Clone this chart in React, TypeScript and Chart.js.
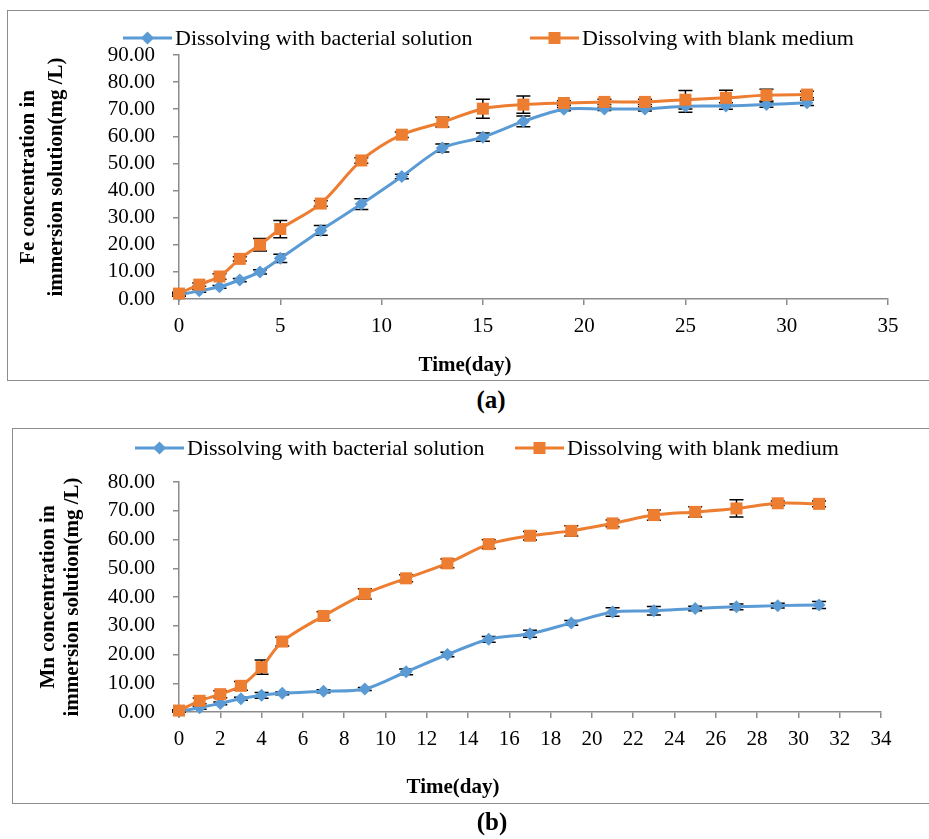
import React, { useEffect, useRef } from 'react';
import { Chart, registerables } from 'chart.js';

Chart.register(...registerables);

// ---------- DATA ----------
const days = [0, 1, 2, 3, 4, 5, 7, 9, 11, 13, 15, 17, 19, 21, 23, 25, 27, 29, 31];

const seriesBacterial = 'Dissolving with bacterial solution';
const seriesBlank = 'Dissolving with blank medium';

// (a) Fe
const feBacterial = [1.5, 3.0, 4.5, 7.0, 10.0, 15.0, 25.3, 35.0, 45.2, 55.7, 59.7, 65.5, 70.0, 70.1, 70.1, 71.1, 71.2, 71.7, 72.4];
const feBacterialErr = [0.5, 0.5, 0.5, 0.6, 0.8, 1.5, 1.8, 2.0, 0.8, 1.5, 1.5, 2.0, 0.6, 0.6, 0.8, 2.2, 1.2, 1.0, 1.0];
const feBlank = [2.0, 5.3, 8.3, 14.8, 20.0, 25.8, 35.2, 51.1, 60.6, 65.2, 70.2, 71.7, 72.3, 72.7, 72.7, 73.5, 74.2, 75.2, 75.4];
const feBlankErr = [0.5, 0.6, 1.0, 0.8, 2.3, 3.2, 1.0, 1.0, 1.0, 1.8, 3.5, 3.2, 0.8, 1.0, 1.0, 3.4, 2.8, 2.2, 1.2];

// (b) Mn
const mnBacterial = [0.3, 1.5, 3.0, 4.6, 5.8, 6.5, 7.2, 8.0, 14.0, 20.0, 25.3, 27.2, 31.0, 34.8, 35.2, 36.0, 36.6, 37.0, 37.2];
const mnBacterialErr = [0.3, 0.5, 0.5, 0.5, 1.0, 0.5, 0.5, 0.5, 1.0, 0.8, 1.0, 1.2, 0.8, 1.5, 1.5, 0.8, 1.0, 0.8, 1.2];
const mnBlank = [0.5, 3.9, 6.2, 9.1, 15.6, 24.5, 33.4, 41.1, 46.5, 51.7, 58.4, 61.3, 63.0, 65.6, 68.5, 69.6, 70.8, 72.6, 72.4];
const mnBlankErr = [0.3, 1.0, 1.2, 1.5, 2.5, 1.5, 1.5, 1.8, 1.2, 1.5, 1.5, 1.5, 1.8, 1.2, 1.8, 1.8, 3.0, 0.8, 1.0];

// axis settings
const feXMax = 35;
const feXStep = 5;
const feYMax = 90;
const mnXMax = 34;
const mnXStep = 2;
const mnYMax = 80;
const yStep = 10;

const feYTitle = ['Fe concentration in', 'immersion solution(mg /L)'];
const mnYTitle = ['Mn concentration in', 'immersion solution(mg /L)'];
const xTitle = 'Time(day)';

// ---------- STYLE ----------
const BLUE = '#5B9BD5';
const ORANGE = '#ED7D31';
const AXIS = '#8c8c8c';
const SERIF = '"Liberation Serif", "Times New Roman", serif';
const LEG_LINE = 49;

function drawMarker(ctx: CanvasRenderingContext2D, shape: string, x: number, y: number, color: string) {
  ctx.save();
  ctx.fillStyle = color;
  ctx.beginPath();
  if (shape === 'rectRot') {
    const r = 6.5;
    ctx.moveTo(x, y - r);
    ctx.lineTo(x + r, y);
    ctx.lineTo(x, y + r);
    ctx.lineTo(x - r, y);
    ctx.closePath();
  } else {
    const h = 6;
    ctx.rect(x - h, y - h, 2 * h, 2 * h);
  }
  ctx.fill();
  ctx.restore();
}

function makeErrorPlugin(errs: number[][]) {
  return {
    id: 'errorBars',
    beforeDatasetsDraw(chart: any) {
      const ctx = chart.ctx as CanvasRenderingContext2D;
      const xs = chart.scales.x;
      const ys = chart.scales.y;
      ctx.save();
      ctx.strokeStyle = '#000';
      ctx.lineWidth = 1.5;
      chart.data.datasets.forEach((ds: any, di: number) => {
        const e = errs[di];
        ds.data.forEach((p: any, i: number) => {
          const px = xs.getPixelForValue(p.x);
          const top = ys.getPixelForValue(p.y + e[i]);
          const bot = ys.getPixelForValue(p.y - e[i]);
          ctx.beginPath();
          ctx.moveTo(px, top);
          ctx.lineTo(px, bot);
          ctx.moveTo(px - 7, top);
          ctx.lineTo(px + 7, top);
          ctx.moveTo(px - 7, bot);
          ctx.lineTo(px + 7, bot);
          ctx.stroke();
        });
      });
      ctx.restore();
    },
  };
}

function makeDecorPlugin(o: { legendY: number; itemX: number[]; titleX: number; titleY: number }) {
  return {
    id: 'decor',
    afterDraw(chart: any) {
      const ctx = chart.ctx as CanvasRenderingContext2D;
      ctx.save();
      chart.data.datasets.forEach((ds: any, i: number) => {
        const x0 = o.itemX[i];
        const y = o.legendY;
        ctx.strokeStyle = ds.borderColor;
        ctx.lineWidth = 3;
        ctx.beginPath();
        ctx.moveTo(x0, y);
        ctx.lineTo(x0 + LEG_LINE, y);
        ctx.stroke();
        drawMarker(ctx, ds.pointStyle, x0 + LEG_LINE / 2, y, ds.backgroundColor);
        ctx.fillStyle = '#000';
        ctx.font = `22px ${SERIF}`;
        ctx.textAlign = 'left';
        ctx.textBaseline = 'middle';
        ctx.fillText(ds.label, x0 + LEG_LINE + 3, y + 1);
      });
      ctx.fillStyle = '#000';
      ctx.font = `bold 21px ${SERIF}`;
      ctx.textAlign = 'center';
      ctx.textBaseline = 'middle';
      ctx.fillText(xTitle, o.titleX, o.titleY);
      ctx.restore();
    },
  };
}

function buildConfig(p: {
  bact: number[];
  blank: number[];
  bactErr: number[];
  blankErr: number[];
  xMax: number;
  xStep: number;
  yMax: number;
  yTitle: string[];
  titleLH: number;
  titlePad: number;
  padding: { left: number; right: number; top: number; bottom: number };
  legendY: number;
  itemX: number[];
  titleX: number;
  titleY: number;
}): any {
  const tickFont = { family: SERIF, size: 21 };
  const mk = (vals: number[]) => days.map((d, i) => ({ x: d, y: vals[i] }));
  return {
    type: 'line',
    data: {
      datasets: [
        {
          label: seriesBacterial,
          data: mk(p.bact),
          borderColor: BLUE,
          backgroundColor: BLUE,
          borderWidth: 3,
          pointStyle: 'rectRot',
          pointRadius: 6.5,
          pointBorderWidth: 0,
          pointBackgroundColor: BLUE,
          tension: 0.3,
          clip: false,
          order: 1,
        },
        {
          label: seriesBlank,
          data: mk(p.blank),
          borderColor: ORANGE,
          backgroundColor: ORANGE,
          borderWidth: 3,
          pointStyle: 'rect',
          pointRadius: 8.5,
          pointBorderWidth: 0,
          pointBackgroundColor: ORANGE,
          tension: 0.3,
          clip: false,
          order: 0,
        },
      ],
    },
    options: {
      responsive: false,
      animation: false,
      events: [],
      layout: { padding: p.padding },
      plugins: { legend: { display: false }, tooltip: { enabled: false }, title: { display: false } },
      scales: {
        x: {
          type: 'linear',
          min: 0,
          max: p.xMax,
          afterFit: (s: any) => {
            s.height = 40;
          },
          border: { display: true, color: AXIS, width: 1.5 },
          grid: { drawOnChartArea: false, drawTicks: true, tickLength: 6, color: AXIS, lineWidth: 1.5 },
          ticks: { stepSize: p.xStep, padding: 9, color: '#000', font: tickFont, maxRotation: 0, autoSkip: false },
        },
        y: {
          min: 0,
          max: p.yMax,
          afterFit: (s: any) => {
            s.width = 179 - p.padding.left;
          },
          border: { display: true, color: AXIS, width: 1.5 },
          grid: { drawOnChartArea: false, drawTicks: true, tickLength: 6, color: AXIS, lineWidth: 1.5 },
          ticks: {
            stepSize: yStep,
            padding: 18,
            autoSkip: false,
            color: '#000',
            font: tickFont,
            callback: (v: any) => Number(v).toFixed(2),
          },
          title: {
            display: true,
            text: p.yTitle,
            color: '#000',
            font: { family: SERIF, size: 21, weight: 'bold', lineHeight: p.titleLH / 21 },
            padding: { top: p.titlePad, bottom: 0 },
          },
        },
      },
    },
    plugins: [
      makeErrorPlugin([p.bactErr, p.blankErr]),
      makeDecorPlugin({ legendY: p.legendY, itemX: p.itemX, titleX: p.titleX, titleY: p.titleY }),
    ],
  };
}

function ChartCanvas({ config, width, height }: { config: () => any; width: number; height: number }) {
  const ref = useRef<HTMLCanvasElement>(null);
  useEffect(() => {
    const chart = new Chart(ref.current as HTMLCanvasElement, config());
    return () => chart.destroy();
  }, []);
  return <canvas ref={ref} width={width} height={height} style={{ display: 'block' }} />;
}

export default function App() {
  const cfgA = () =>
    buildConfig({
      bact: feBacterial,
      blank: feBlank,
      bactErr: feBacterialErr,
      blankErr: feBlankErr,
      xMax: feXMax,
      xStep: feXStep,
      yMax: feYMax,
      yTitle: feYTitle,
      titleLH: 28,
      titlePad: 15,
      padding: { left: 0, right: 41, top: 55, bottom: 46 },
      legendY: 38,
      itemX: [123, 530],
      titleX: 465,
      titleY: 366,
    });
  const cfgB = () =>
    buildConfig({
      bact: mnBacterial,
      blank: mnBlank,
      bactErr: mnBacterialErr,
      blankErr: mnBlankErr,
      xMax: mnXMax,
      xStep: mnXStep,
      yMax: mnYMax,
      yTitle: mnYTitle,
      titleLH: 24,
      titlePad: 37,
      padding: { left: 0, right: 48, top: 62, bottom: 58 },
      legendY: 28,
      itemX: [135, 515],
      titleX: 453,
      titleY: 368,
    });

  const labelStyle: React.CSSProperties = {
    position: 'absolute',
    width: 100,
    textAlign: 'center',
    fontFamily: SERIF,
    fontWeight: 'bold',
    fontSize: 25,
    lineHeight: '28px',
    color: '#000',
  };

  return (
    <div style={{ position: 'absolute', left: 0, top: 0, width: 929, height: 839, overflow: 'hidden', background: '#fff' }}>
      <div style={{ position: 'absolute', left: 7, top: 10, width: 940, height: 371, border: `1.5px solid ${AXIS}`, boxSizing: 'border-box' }} />
      <div style={{ position: 'absolute', left: 12, top: 428, width: 940, height: 376, border: `1.5px solid ${AXIS}`, boxSizing: 'border-box' }} />
      <div style={{ position: 'absolute', left: 0, top: 0 }}>
        <ChartCanvas config={cfgA} width={929} height={385} />
      </div>
      <div style={{ position: 'absolute', left: 0, top: 420 }}>
        <ChartCanvas config={cfgB} width={929} height={390} />
      </div>
      <div style={{ ...labelStyle, left: 441, top: 386 }}>(a)</div>
      <div style={{ ...labelStyle, left: 442, top: 808 }}>(b)</div>
    </div>
  );
}
